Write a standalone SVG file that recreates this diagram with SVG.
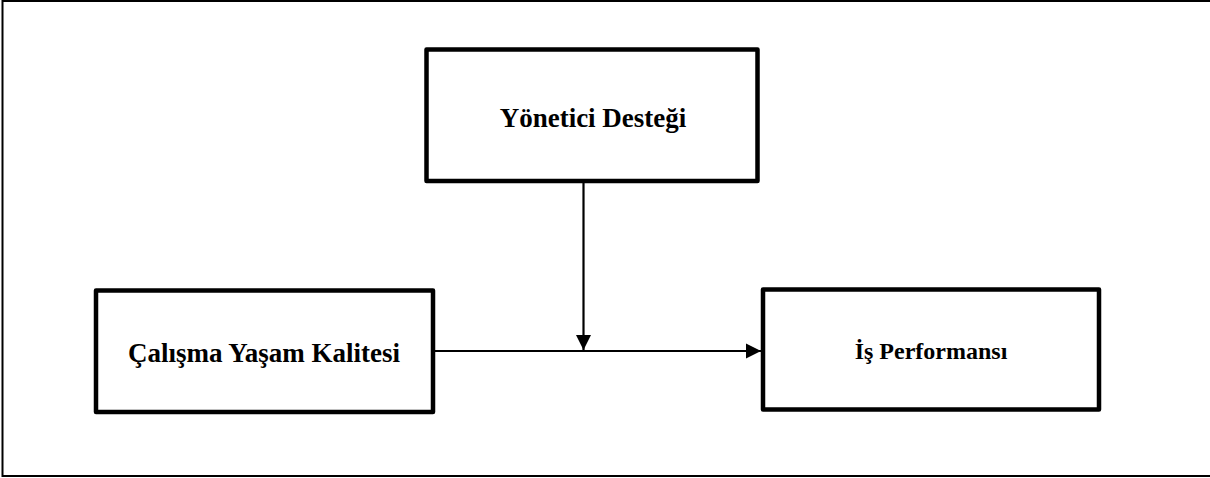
<svg xmlns="http://www.w3.org/2000/svg" width="1210" height="478" viewBox="0 0 1210 478">
  <style>
    .frame { fill: none; stroke: #000; stroke-width: 2; }
    .box { fill: #fff; stroke: #000; stroke-width: 4.5; stroke-linejoin: round; }
    .label { font-family: "Liberation Serif", "Times New Roman", serif; font-weight: bold; fill: #000; text-anchor: middle; }
    .conn { fill: none; stroke: #000; stroke-width: 2.2; }
  </style>
  <defs>
    <marker id="arrow" markerUnits="userSpaceOnUse" markerWidth="16" markerHeight="16" viewBox="0 0 16 16" refX="15" refY="8" orient="auto">
      <path d="M0,0.5 L15,8 L0,15.5 Z" fill="#000"/>
    </marker>
  </defs>
  <rect width="1210" height="478" fill="#fff"/>
  <rect class="frame" x="2.5" y="1" width="1215" height="475"/>
  <g id="connectors">
    <line class="conn" x1="583.5" y1="183" x2="583.5" y2="350" marker-end="url(#arrow)"/>
    <line class="conn" x1="435" y1="351" x2="761" y2="351" marker-end="url(#arrow)"/>
  </g>
  <g id="node-yonetici">
    <rect class="box" x="426.5" y="49.5" width="331" height="131.5"/>
    <text class="label" x="593" y="127" font-size="27">Yönetici Desteği</text>
  </g>
  <g id="node-calisma">
    <rect class="box" x="96" y="290.5" width="337" height="121.5"/>
    <text class="label" x="264" y="361.5" font-size="27">Çalışma Yaşam Kalitesi</text>
  </g>
  <g id="node-is">
    <rect class="box" x="763" y="289.5" width="336" height="120"/>
    <text class="label" x="931" y="359" font-size="24">İş Performansı</text>
  </g>
</svg>
